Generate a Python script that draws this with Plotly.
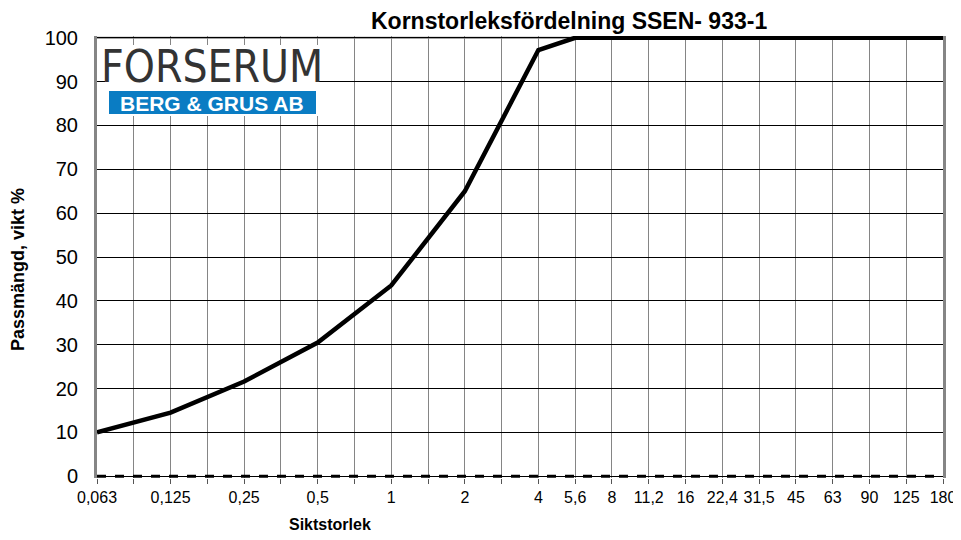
import plotly.graph_objects as go

# Sieve categories (all gridline positions) and which ones are labelled
categories = ["0.063", "0.09", "0.125", "0.18", "0.25", "0.355", "0.5", "0.71",
              "1", "1.4", "2", "2.8", "4", "5.6", "8", "11.2", "16", "22.4",
              "31.5", "45", "63", "90", "125", "180"]
tick_labels = ["0,063", "", "0,125", "", "0,25", "", "0,5", "", "1", "", "2", "",
               "4", "5,6", "8", "11,2", "16", "22,4", "31,5", "45", "63", "90", "125", "180"]

# Measured passing percentages
sieves = ["0.063", "0.125", "0.25", "0.5", "1", "2", "4", "5.6", "8", "11.2",
          "16", "22.4", "31.5", "45", "63", "90", "125", "180"]
passing = [10, 14.5, 21.6, 30.5, 43.5, 65, 97.2, 100, 100, 100,
           100, 100, 100, 100, 100, 100, 100, 100]
lower = [0] * len(sieves)

# page body has an 8px margin; size the figure so the page does not overflow
OFF = 8
W, H = 961 - OFF, 540 - 2 * OFF
ML, MR, MT = 97 - OFF, 961 - 943, 36 - OFF
MB = H - MT - (478 - 36)
PW, PH = W - ML - MR, H - MT - MB


def px(x):
    # reference-window pixel x -> paper coordinate
    return (x - OFF - ML) / PW


def py(y):
    # reference-window pixel y -> paper coordinate
    return (H - MB - (y - OFF)) / PH


fig = go.Figure()
fig.add_trace(go.Scatter(x=sieves, y=lower, mode="lines",
                         line=dict(color="black", width=3, dash="dash"),
                         hoverinfo="skip", showlegend=False))
fig.add_trace(go.Scatter(x=sieves, y=passing, mode="lines",
                         line=dict(color="black", width=4.5),
                         showlegend=False))

font = "Liberation Sans, Arial, sans-serif"

fig.update_layout(
    width=W, height=H,
    margin=dict(l=ML, r=MR, t=MT, b=MB, autoexpand=False),
    paper_bgcolor="white", plot_bgcolor="white",
    font=dict(family=font, color="black"),
    xaxis=dict(type="category", categoryorder="array", categoryarray=categories,
               range=[0, len(categories) - 1],
               tickmode="array", tickvals=categories, ticktext=tick_labels,
               showgrid=True, gridcolor="#858585", gridwidth=1,
               ticks="outside", ticklen=5, tickcolor="#555555",
               tickfont=dict(size=16), showline=False, zeroline=False),
    yaxis=dict(range=[-0.4, 100.4], tickmode="array",
               tickvals=list(range(0, 101, 10)),
               showgrid=True, gridcolor="black", gridwidth=1,
               tickfont=dict(size=20), ticks="", ticklabelstandoff=12,
               showline=True, linecolor="#858585", linewidth=3, mirror=True,
               zeroline=False),
    shapes=[
        dict(type="line", xref="paper", yref="y", x0=0, x1=1, y0=100, y1=100,
             line=dict(color="#858585", width=2), layer="below"),
        dict(type="rect", xref="paper", yref="paper",
             x0=px(105), x1=px(318), y0=py(116), y1=py(45),
             fillcolor="white", line=dict(width=0), layer="above"),
        dict(type="rect", xref="paper", yref="paper",
             x0=px(109), x1=px(316), y0=py(114), y1=py(91),
             fillcolor="#0a7cc3", line=dict(width=0), layer="above"),
    ],
    annotations=[
        dict(text="<b>Kornstorleksfördelning SSEN- 933-1</b>", xref="paper", yref="paper",
             x=px(569), y=py(21), xanchor="center", yanchor="middle", showarrow=False,
             font=dict(size=23, family=font, color="black")),
        dict(text="<b>Passmängd, vikt %</b>", xref="paper", yref="paper",
             x=px(18), y=py(270), xanchor="center", yanchor="middle", showarrow=False,
             textangle=-90, font=dict(size=18, family=font, color="black")),
        dict(text="<b>Siktstorlek</b>", xref="paper", yref="paper",
             x=px(330), y=py(524), xanchor="center", yanchor="middle", showarrow=False,
             font=dict(size=16, family=font, color="black")),
        dict(text="FORSERUM", xref="paper", yref="paper",
             x=px(212), y=py(67), xanchor="center", yanchor="middle", showarrow=False,
             font=dict(size=44, family="Liberation Sans Narrow, DejaVu Sans Condensed, Arial Narrow, sans-serif",
                       color="#333333")),
        dict(text="<b>BERG &amp; GRUS AB</b>",
             xref="paper", yref="paper",
             x=px(212), y=py(103), xanchor="center", yanchor="middle", showarrow=False,
             font=dict(size=21, family=font, color="white")),
    ],
)

fig.write_html("out.html")
